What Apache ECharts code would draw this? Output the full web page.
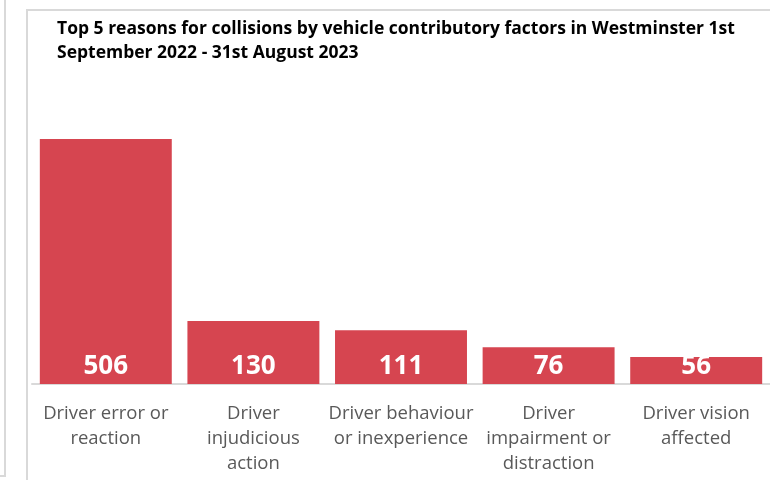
<!DOCTYPE html>
<html>
<head>
<meta charset="utf-8">
<script src="https://cdn.jsdelivr.net/npm/echarts@6/dist/echarts.min.js"></script>
<style>
html,body{margin:0;padding:0;background:#fff;}
#chart{width:770px;height:480px;}
</style>
</head>
<body>
<div id="chart"></div>
<script>
const titleText = 'Top 5 reasons for collisions by vehicle contributory factors in Westminster 1st\nSeptember 2022 - 31st August 2023';
const categories = ['Driver error or reaction', 'Driver injudicious action', 'Driver behaviour or inexperience', 'Driver impairment or distraction', 'Driver vision affected'];
const tickLabels = ['Driver error or\nreaction', 'Driver\ninjudicious\naction', 'Driver behaviour\nor inexperience', 'Driver\nimpairment or\ndistraction', 'Driver vision\naffected'];
const values = [506, 130, 111, 76, 56];

const chart = echarts.init(document.getElementById('chart'), null, {renderer: 'canvas'});
chart.setOption({
  animation: false,
  backgroundColor: '#ffffff',
  graphic: [
    {type: 'rect', shape: {x: -100, y: -10, width: 105, height: 486}, style: {fill: 'none', stroke: '#d9d9d9', lineWidth: 2}},
    {type: 'rect', shape: {x: 27, y: 10, width: 800, height: 600}, style: {fill: 'none', stroke: '#d9d9d9', lineWidth: 2}}
  ],
  title: {
    text: titleText,
    left: 52, top: 12,
    textStyle: {fontFamily: 'Open Sans', fontWeight: 'bold', fontSize: 17.5, color: '#000', lineHeight: 24}
  },
  grid: {left: 32, right: 0, top: 93.5, bottom: 96, containLabel: false},
  xAxis: {
    type: 'category',
    data: categories,
    axisLine: {lineStyle: {color: '#d9d9d9', width: 2}},
    axisTick: {show: false},
    axisLabel: {
      interval: 0,
      margin: 17,
      fontFamily: 'Open Sans', fontSize: 18.5, color: '#595959', lineHeight: 25,
      formatter: function (v, i) { return tickLabels[i]; }
    }
  },
  yAxis: {type: 'value', min: 0, max: 600, show: false, splitLine: {show: false}},
  series: [{
    type: 'bar',
    data: values,
    barCategoryGap: '10.6%',
    itemStyle: {color: '#d64550'},
    label: {
      show: true, position: 'insideBottom', distance: 4,
      fontFamily: 'Open Sans', fontWeight: 'bold', fontSize: 26, color: '#ffffff'
    }
  }]
});
</script>
</body>
</html>
